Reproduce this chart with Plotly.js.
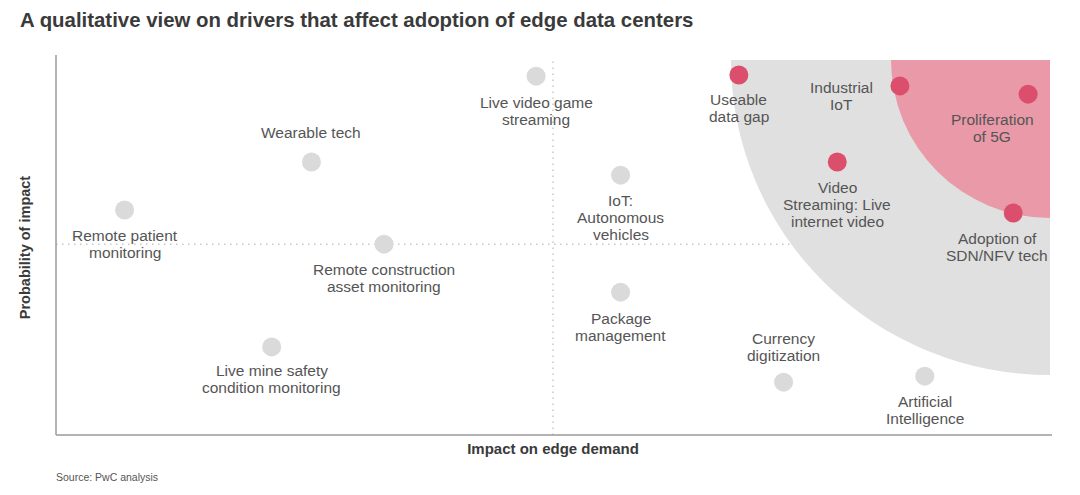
<!DOCTYPE html>
<html>
<head>
<meta charset="utf-8">
<script src="https://cdn.plot.ly/plotly-3.0.1.min.js"></script>
<style>html,body{margin:0;padding:0;background:#fff;}#chart{width:1080px;height:495px;}</style>
</head>
<body>
<div id="chart"></div>
<script>
// Qualitative positions (0-10 scale): x = impact on edge demand, y = probability of impact
const greyLabels = ["Remote patient<br>monitoring", "Wearable tech", "Remote construction<br>asset monitoring",
  "Live mine safety<br>condition monitoring", "Live video game<br>streaming", "IoT:<br>Autonomous<br>vehicles",
  "Package<br>management", "Currency<br>digitization", "Artificial<br>Intelligence"];
const greyX = [0.69, 2.57, 3.30, 2.17, 4.83, 5.68, 5.68, 7.32, 8.74];
const greyY = [6.00, 7.28, 5.09, 2.35, 9.57, 6.93, 3.81, 1.41, 1.57];

const redLabels = ["Useable<br>data gap", "Industrial<br>IoT", "Proliferation<br>of 5G",
  "Video<br>Streaming: Live<br>internet video", "Adoption of<br>SDN/NFV tech"];
const redX = [6.87, 8.49, 9.78, 7.86, 9.63];
const redY = [9.60, 9.31, 9.09, 7.28, 5.92];

const midX = 5.0, midY = 5.09;

// label offsets in pixels (layout only): [dx, dy of label centre, screen-down positive]
const greyOff = [[0,33.5],[0,-30],[0,33.5],[0,32.5],[0,34.5],[0,42],[0,34.5],[0,-35.5],[0,33.5]];
const redOff = [[0,32.5],[-58,10.5],[-36,33.5],[0,42],[-16,33.5]];
const LINE_H = 17;

const FONT = "Liberation Sans, Arial, Helvetica, sans-serif";
const traces = [
  {type:"scatter", mode:"markers", x:greyX, y:greyY, text:greyLabels, hoverinfo:"text",
   marker:{size:19, color:"#dadada"}, showlegend:false, cliponaxis:false},
  {type:"scatter", mode:"markers", x:redX, y:redY, text:redLabels, hoverinfo:"text",
   marker:{size:19, color:"#dc4f6c"}, showlegend:false, cliponaxis:false}
];

const annotations = [];
function addLabels(labels, xs, ys, offs){
  labels.forEach((t,i)=>{
    const lines = t.split("<br>");
    const n = lines.length;
    lines.forEach((ln,j)=>{
      const dy = offs[i][1] + (j - (n-1)/2) * LINE_H;
      annotations.push({x:xs[i], y:ys[i], xref:"x", yref:"y", text:ln, showarrow:false,
        xanchor:"center", yanchor:"middle", align:"center", xshift:offs[i][0], yshift:-dy,
        font:{family:FONT, size:15.5, color:"#555555"}});
    });
  });
}
addLabels(greyLabels, greyX, greyY, greyOff);
addLabels(redLabels, redX, redY, redOff);
annotations.push({xref:"paper", yref:"paper", x:0, y:-0.113, yanchor:"middle", xanchor:"left", xshift:-2,
  text:"Source: PwC analysis", showarrow:false, font:{family:FONT, size:10.5, color:"#555555"}});

const xPx = 99.4, yPx = 37.5; // pixels per unit (for circle radii)
const rGrey = 319, rPink = 159;
const shapes = [
  {type:"line", xref:"x", yref:"paper", x0:midX, x1:midX, y0:0, y1:1, layer:"below",
   line:{color:"#c8c8c8", width:1.5, dash:"1.5px,4.5px"}},
  {type:"line", xref:"paper", yref:"y", x0:0, x1:1, y0:midY, y1:midY, layer:"below",
   line:{color:"#c8c8c8", width:1.5, dash:"1.5px,4.5px"}},
  {type:"circle", xref:"x", yref:"y", x0:10-rGrey/xPx, x1:10+rGrey/xPx, y0:10-315/yPx, y1:10+315/yPx,
   layer:"below", fillcolor:"#e0e0e0", line:{width:0}},
  {type:"circle", xref:"x", yref:"y", x0:10-rPink/xPx, x1:10+rPink/xPx, y0:10-158/yPx, y1:10+158/yPx,
   layer:"below", fillcolor:"#e999a7", line:{width:0}},
  {type:"line", xref:"paper", yref:"paper", x0:0, x1:0, y0:0, y1:1.0133, layer:"above",
   line:{color:"#9a9a9a", width:1.5}},
  {type:"line", xref:"paper", yref:"paper", x0:0, x1:1.002, y0:0, y1:0, layer:"above",
   line:{color:"#9a9a9a", width:1.5}}
];

const layout = {
  width:1080, height:495,
  margin:{l:56, r:30, t:60, b:60, pad:0},
  paper_bgcolor:"#ffffff", plot_bgcolor:"#ffffff",
  title:{text:"<b>A qualitative view on drivers that affect adoption of edge data centers</b>",
    x:20/1080, xanchor:"left", xref:"container", y:1-20/495, yanchor:"middle", yref:"container",
    font:{family:FONT, size:20.4, color:"#3a3a3a"}},
  xaxis:{range:[0,10], showgrid:false, zeroline:false, showticklabels:false, ticks:"", showline:false,
    fixedrange:true,
    title:{text:"<b>Impact on edge demand</b>", standoff:8, font:{family:FONT, size:15, color:"#3a3a3a"}}},
  yaxis:{range:[0,10], showgrid:false, zeroline:false, showticklabels:false, ticks:"", showline:false,
    fixedrange:true,
    title:{text:"<b>Probability of impact</b>", standoff:20, font:{family:FONT, size:14.5, color:"#3a3a3a"}}},
  shapes:shapes,
  annotations:annotations,
  showlegend:false
};

Plotly.newPlot("chart", traces, layout, {displayModeBar:false, staticPlot:true});
</script>
</body>
</html>
